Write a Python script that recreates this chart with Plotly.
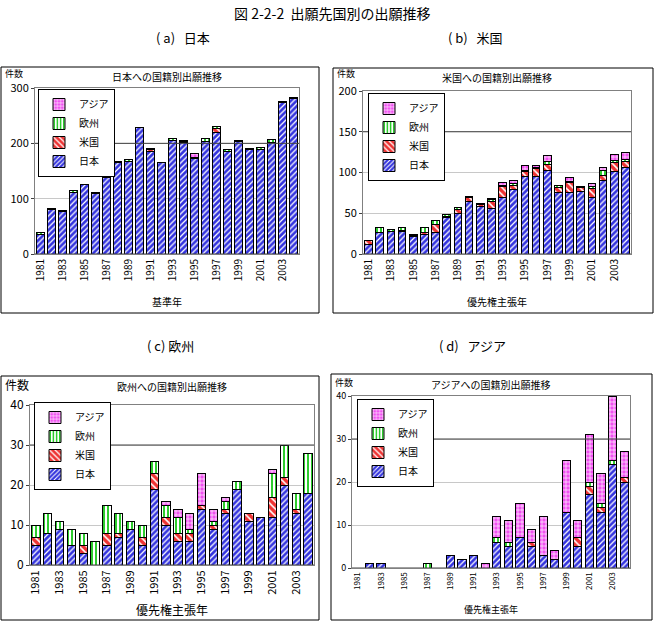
import plotly.graph_objects as go

years = list(range(1981, 2005))
tick_years = list(range(1981, 2005, 2))

series_names = ["日本", "米国", "欧州", "アジア"]

# (a) 日本への国籍別出願推移
a_jp = [36, 81, 77, 111, 125, 109, 139, 166, 168, 228, 186, 166, 205, 201, 172, 204, 219, 186, 204, 188, 188, 202, 273, 281]
a_us = [0, 0, 0, 0, 0, 0, 0, 0, 0, 0, 3, 0, 0, 1, 0, 0, 8, 0, 0, 0, 0, 0, 0, 0]
a_eu = [2, 2, 2, 3, 1, 2, 5, 2, 2, 1, 1, 0, 3, 2, 2, 4, 3, 2, 2, 2, 4, 5, 3, 2]
a_as = [0, 0, 0, 0, 0, 0, 0, 0, 0, 0, 0, 0, 0, 2, 8, 0, 0, 0, 0, 0, 0, 0, 0, 0]

# (b) 米国への国籍別出願推移
b_jp = [12, 26, 28, 28, 21, 24, 26, 45, 50, 64, 58, 56, 69, 79, 95, 95, 102, 76, 75, 77, 69, 90, 101, 106]
b_us = [4, 1, 0, 1, 2, 3, 10, 1, 5, 5, 3, 8, 14, 5, 6, 10, 8, 6, 13, 5, 11, 6, 11, 7]
b_eu = [1, 6, 2, 3, 1, 5, 5, 3, 2, 2, 1, 3, 1, 2, 1, 1, 3, 2, 1, 1, 3, 6, 3, 3]
b_as = [0, 0, 0, 0, 0, 0, 0, 0, 0, 0, 0, 1, 4, 4, 7, 3, 8, 0, 5, 0, 4, 4, 7, 9]

# (c) 欧州への国籍別出願推移
c_jp = [5, 8, 9, 5, 3, 0, 5, 7, 9, 5, 19, 10, 6, 6, 14, 9, 13, 19, 11, 12, 12, 20, 13, 18]
c_us = [2, 0, 0, 0, 2, 0, 3, 1, 0, 2, 4, 2, 2, 2, 1, 1, 1, 0, 2, 0, 5, 2, 1, 0]
c_eu = [3, 5, 2, 4, 3, 6, 7, 5, 2, 3, 3, 3, 4, 1, 0, 1, 2, 2, 0, 0, 6, 8, 4, 10]
c_as = [0, 0, 0, 0, 0, 0, 0, 0, 0, 0, 0, 1, 2, 4, 8, 3, 1, 0, 0, 0, 1, 0, 0, 0]

# (d) アジアへの国籍別出願推移
d_jp = [0, 1, 1, 0, 0, 0, 0, 0, 3, 2, 3, 0, 6, 5, 7, 5, 3, 2, 13, 5, 17, 13, 24, 20]
d_us = [0, 0, 0, 0, 0, 0, 0, 0, 0, 0, 0, 0, 0, 0, 0, 1, 0, 0, 0, 2, 2, 1, 0, 1]
d_eu = [0, 0, 0, 0, 0, 0, 1, 0, 0, 0, 0, 0, 1, 1, 0, 0, 0, 0, 0, 0, 1, 1, 1, 0]
d_as = [0, 0, 0, 0, 0, 0, 0, 0, 0, 0, 0, 1, 5, 5, 8, 3, 9, 2, 12, 4, 11, 7, 15, 6]

W, H = 655, 626
FONT = "Noto Sans CJK JP"

styles = {
    "日本": dict(bgcolor="#3333dd", fgcolor="#ffffff", shape="/", size=4, solidity=0.32),
    "米国": dict(bgcolor="#ee3333", fgcolor="#ffffff", shape="\\", size=5, solidity=0.32),
    "欧州": dict(bgcolor="#ffffff", fgcolor="#2ecc2e", shape="|", size=4, solidity=0.5),
    "アジア": dict(bgcolor="#f050f0", fgcolor="#ffffff", shape="+", size=4, solidity=0.3),
}

panels = [
    dict(data=[a_jp, a_us, a_eu, a_as], title="日本への国籍別出願推移", xtitle="基準年",
         px=(35, 299), py=(88, 254), ymax=300, dtick=100, dark=200,
         box=(1, 67, 319, 313), leg=(38, 89), fs=11, tfs=10, cfs=10, kfs=9, ky=6),
    dict(data=[b_jp, b_us, b_eu, b_as], title="米国への国籍別出願推移", xtitle="優先権主張年",
         px=(363, 631), py=(91, 254), ymax=200, dtick=50, dark=150,
         box=(333, 68, 653, 313), leg=(368, 93), fs=11, tfs=10, cfs=10, kfs=9, ky=6),
    dict(data=[c_jp, c_us, c_eu, c_as], title="欧州への国籍別出願推移", xtitle="優先権主張年",
         px=(30, 314), py=(405, 565), ymax=40, dtick=10, dark=30,
         box=(1, 376, 319, 620), leg=(34, 402), fs=12, tfs=11, cfs=12, kfs=12, ky=8),
    dict(data=[d_jp, d_us, d_eu, d_as], title="アジアへの国籍別出願推移", xtitle="優先権主張年",
         px=(352, 630), py=(396, 568), ymax=40, dtick=10, dark=30,
         box=(331, 374, 652, 620), leg=(357, 399), fs=9, tfs=8, cfs=9, kfs=9, ky=8),
]

fig = go.Figure()
shapes = []
annotations = []
layout = {}


def fx(p):
    return p / W


def fy(p):
    return 1 - p / H


for i, p in enumerate(panels):
    n = "" if i == 0 else str(i + 1)
    xa, ya = "x" + n, "y" + n
    legname = "legend" + n
    for name, vals in zip(series_names, p["data"]):
        st = styles[name]
        fig.add_trace(go.Bar(
            x=years, y=[v if v else None for v in vals], name=name,
            xaxis=xa, yaxis=ya, legend=legname,
            marker=dict(color=st["bgcolor"], line=dict(color="#000000", width=1),
                        pattern=dict(shape=st["shape"], bgcolor=st["bgcolor"], fgcolor=st["fgcolor"],
                                     size=st["size"], solidity=st["solidity"], fillmode="replace")),
        ))
    layout["xaxis" + n] = dict(
        domain=[fx(p["px"][0]), fx(p["px"][1])], anchor=ya, range=[1980.5, 2004.5],
        tickmode="array", tickvals=tick_years, ticktext=[str(t) for t in tick_years],
        tickangle=-90, tickfont=dict(size=p["tfs"], family=FONT, color="#000"),
        showline=True, linecolor="#808080", mirror=True, showgrid=False, ticks="",
    )
    layout["yaxis" + n] = dict(
        domain=[fy(p["py"][1]), fy(p["py"][0])], anchor=xa, range=[0, p["ymax"]],
        dtick=p["dtick"], tickfont=dict(size=p["fs"], family=FONT, color="#000"),
        showline=True, linecolor="#808080", mirror=True, showgrid=True, gridcolor="#c8c8c8",
        ticks="outside", ticklen=3, tickcolor="#404040", zeroline=False,
    )
    layout[legname] = dict(
        x=fx(p["leg"][0]), y=fy(p["leg"][1]), xanchor="left", yanchor="top",
        bgcolor="#ffffff", bordercolor="#000000", borderwidth=1, traceorder="reversed",
        font=dict(size=10, family=FONT, color="#000"), itemwidth=30, tracegroupgap=0,
    )
    # dark reference line
    shapes.append(dict(type="line", xref=xa + " domain", yref=ya, x0=0, x1=1,
                       y0=p["dark"], y1=p["dark"], line=dict(color="#404040", width=1)))
    # dark baseline
    shapes.append(dict(type="line", xref=xa + " domain", yref=ya, x0=0, x1=1,
                       y0=0, y1=0, line=dict(color="#404040", width=1)))
    # panel box
    b = p["box"]
    shapes.append(dict(type="rect", xref="paper", yref="paper", x0=fx(b[0]), x1=fx(b[2]),
                       y0=fy(b[3]), y1=fy(b[1]), line=dict(color="#000000", width=1),
                       layer="below"))
    cx = (p["px"][0] + p["px"][1]) / 2
    annotations.append(dict(text=p["title"], x=fx(cx), y=fy(b[1] + 10), xref="paper", yref="paper",
                            xanchor="center", yanchor="middle", showarrow=False,
                            font=dict(size=10, family=FONT, color="#000")))
    annotations.append(dict(text="件数", x=fx(b[0] + 2), y=fy(b[1] + p["ky"]), xref="paper", yref="paper",
                            xanchor="left", yanchor="middle", showarrow=False,
                            font=dict(size=p["kfs"], family=FONT, color="#000")))
    annotations.append(dict(text=p["xtitle"], x=fx(cx), y=fy(b[3] - 11), xref="paper", yref="paper",
                            xanchor="center", yanchor="middle", showarrow=False,
                            font=dict(size=p["cfs"], family=FONT, color="#000")))

heads = [("図 2-2-2  出願先国別の出願推移", 332, 13, 14),
         ("( a)   日本", 183, 37, 13), ("( b)   米国", 475, 37, 13),
         ("( c) 欧州", 170, 345, 13), ("( d)   アジア", 472, 345, 13)]
for t, x, y, s in heads:
    annotations.append(dict(text=t, x=fx(x), y=fy(y), xref="paper", yref="paper", showarrow=False,
                            xanchor="center", yanchor="middle",
                            font=dict(size=s, family=FONT, color="#000")))

fig.update_layout(
    width=W, height=H, margin=dict(l=0, r=0, t=0, b=0, autoexpand=False),
    paper_bgcolor="#ffffff", plot_bgcolor="#ffffff", barmode="stack", bargap=0.3,
    shapes=shapes, annotations=annotations, font=dict(family=FONT), **layout,
)
fig.write_html("out.html")
